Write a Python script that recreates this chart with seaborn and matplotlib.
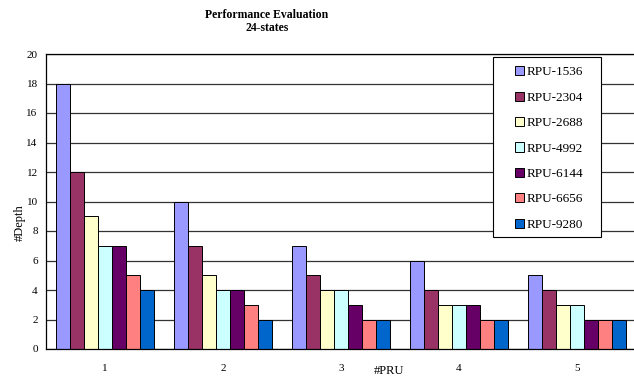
import matplotlib
matplotlib.use("Agg")
import matplotlib.pyplot as plt
from matplotlib.patches import Rectangle
import seaborn as sns
import pandas as pd

# Depth per PRU count for each RPU configuration
prus = ["1", "2", "3", "4", "5"]
series = ["RPU-1536", "RPU-2304", "RPU-2688", "RPU-4992", "RPU-6144", "RPU-6656", "RPU-9280"]
rpu_1536 = [18, 10, 7, 6, 5]
rpu_2304 = [12, 7, 5, 4, 4]
rpu_2688 = [9, 5, 4, 3, 3]
rpu_4992 = [7, 4, 4, 3, 3]
rpu_6144 = [7, 4, 3, 3, 2]
rpu_6656 = [5, 3, 2, 2, 2]
rpu_9280 = [4, 2, 2, 2, 2]
colors = ["#9999FF", "#993366", "#FFFFCC", "#CCFFFF", "#660066", "#FF8080", "#0066CC"]

values = [rpu_1536, rpu_2304, rpu_2688, rpu_4992, rpu_6144, rpu_6656, rpu_9280]
rows = []
for name, vals in zip(series, values):
    for p, v in zip(prus, vals):
        rows.append({"PRU": p, "RPU": name, "Depth": v})
df = pd.DataFrame(rows)

sns.set_theme(style="white")
plt.rcParams["font.family"] = ["Liberation Serif", "DejaVu Serif"]
plt.rcParams["text.color"] = "black"
plt.rcParams["xtick.color"] = "black"
plt.rcParams["ytick.color"] = "black"
plt.rcParams["axes.labelcolor"] = "black"

W, H = 634, 376
fig = plt.figure(figsize=(W / 100, H / 100), dpi=100)
x0, x1, y0, y1 = 46, 636, 54, 349
ax = fig.add_axes([x0 / W, 1 - y1 / H, (x1 - x0) / W, (y1 - y0) / H])

sns.barplot(data=df, x="PRU", y="Depth", hue="RPU", hue_order=series,
            palette=colors, width=0.83, edgecolor="black", linewidth=0.7,
            saturation=1, legend=False, ax=ax)

ax.set_xlim(-0.5, 4.5)
ax.set_ylim(0, 20)
ax.set_yticks(range(0, 21, 2))
ax.set_axisbelow(True)
ax.yaxis.grid(True, color="#333333", linewidth=0.9)
ax.xaxis.grid(False)
for s in ["left", "bottom", "top"]:
    ax.spines[s].set_color("black")
    ax.spines[s].set_linewidth(0.9)
ax.spines["right"].set_visible(False)

ax.tick_params(axis="y", length=0, pad=6, labelsize=8)
ax.tick_params(axis="x", which="major", length=0, pad=11, labelsize=8)
ax.set_xticks([i + 0.5 for i in range(4)], minor=True)
ax.tick_params(axis="x", which="minor", direction="in", length=3, width=0.8, color="black")

ax.set_xlabel("#PRU", fontsize=9)
ax.xaxis.set_label_coords((389 - x0) / (x1 - x0), -(371 - y1) / (y1 - y0))
ax.xaxis.label.set_va("center")
ax.set_ylabel("#Depth", fontsize=9)
ax.yaxis.set_label_coords((20 - x0) / (x1 - x0), 0.43)
ax.yaxis.label.set_va("center")

fig.text(267 / W, 1 - 15 / H, "Performance Evaluation", ha="center", va="center",
         fontsize=8.5, fontweight="bold")
fig.text(267 / W, 1 - 28 / H, "24-states", ha="center", va="center",
         fontsize=8.5, fontweight="bold")

# legend box with its own frame
lx0, lx1, ly0, ly1 = 493, 601, 57, 237
frame = Rectangle((lx0 / W, 1 - ly1 / H), (lx1 - lx0) / W, (ly1 - ly0) / H,
                  transform=fig.transFigure, facecolor="white", edgecolor="black",
                  linewidth=0.8, zorder=4)
ax.add_patch(frame)
handles = [Rectangle((0, 0), 1, 1, facecolor=c, edgecolor="black", linewidth=0.7)
           for c in colors]
leg = ax.legend(handles, series, loc="center",
                bbox_to_anchor=((lx0 + lx1) / 2 / W + 0.003, 1 - (ly0 + ly1) / 2 / H - 0.004),
                bbox_transform=fig.transFigure, frameon=False, fontsize=9.5,
                handlelength=0.7, handleheight=0.7, handletextpad=0.2,
                labelspacing=1.0, borderpad=0.2)
leg.set_zorder(5)

fig.savefig("out.png", dpi=100)
